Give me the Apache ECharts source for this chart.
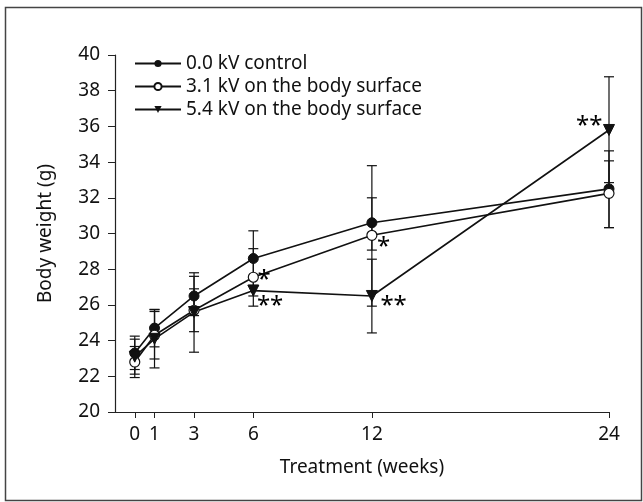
<!DOCTYPE html>
<html>
<head>
<meta charset="utf-8">
<script src="https://cdn.jsdelivr.net/npm/echarts@6/dist/echarts.min.js"></script>
<style>
  html, body { margin: 0; padding: 0; background: #fff; }
  #chart { width: 643px; height: 502px; }
</style>
</head>
<body>
<div id="chart"></div>
<script>
// weeks of treatment
const weeks = [0, 1, 3, 6, 12, 24];
const xTicks = [0, 1, 3, 6, 12, 24];

// mean body weight (g)
const control = [23.3, 24.7, 26.5, 28.6, 30.6, 32.5];
const kv31 = [22.8, 24.3, 25.7, 27.55, 29.9, 32.25];
const kv54 = [23.1, 24.1, 25.6, 26.8, 26.5, 35.8];

// error bar ends
const controlLow = [22.38, 23.65, 25.4, 27.05, 29.07, 30.33];
const controlHigh = [24.25, 25.75, 27.6, 30.15, 32.0, 34.63];
const kv31Low = [21.93, 22.97, 24.5, 25.93, 25.93, 30.33];
const kv31High = [23.67, 25.63, 26.9, 29.15, 33.8, 34.07];
const kv54Low = [22.12, 22.47, 23.35, 26.5, 24.43, 32.85];
const kv54High = [24.08, 25.73, 27.8, 27.1, 28.56, 38.78];

// significance marks [week, weight, text]
const stars = [
  [6.55, 27.4, '*'],
  [6.85, 25.95, '**'],
  [12.6, 29.25, '*'],
  [13.1, 25.95, '**'],
  [23.0, 36.0, '**']
];

const names = ['0.0 kV control', '3.1 kV on the body surface', '5.4 kV on the body surface'];
const font = 'Noto Sans';

function pairs(ys) {
  return weeks.map((w, i) => [w, ys[i]]);
}

function errData(low, high) {
  return weeks.map((w, i) => [w, low[i], high[i]]);
}

function errSeries(low, high) {
  return {
    type: 'custom',
    silent: true,
    z: 1,
    data: errData(low, high),
    encode: { x: 0, y: [1, 2] },
    renderItem: function (params, api) {
      let x = api.value(0);
      let lo = api.coord([x, api.value(1)]);
      let hi = api.coord([x, api.value(2)]);
      let cap = 5;
      let style = { stroke: '#111', lineWidth: 1.2 };
      return {
        type: 'group',
        children: [
          { type: 'line', shape: { x1: lo[0], y1: lo[1], x2: hi[0], y2: hi[1] }, style: style },
          { type: 'line', shape: { x1: lo[0] - cap, y1: lo[1], x2: lo[0] + cap, y2: lo[1] }, style: style },
          { type: 'line', shape: { x1: hi[0] - cap, y1: hi[1], x2: hi[0] + cap, y2: hi[1] }, style: style }
        ]
      };
    }
  };
}

let chart = echarts.init(document.getElementById('chart'));
chart.setOption({
  animation: false,
  backgroundColor: '#fff',
  textStyle: { fontFamily: font },
  graphic: [
    {
      type: 'rect',
      shape: { x: 5.5, y: 7.5, width: 636, height: 493 },
      style: { fill: 'none', stroke: '#444', lineWidth: 1.5 },
      silent: true
    }
  ],
  grid: { left: 115, right: 34, top: 55, bottom: 90 },
  legend: {
    orient: 'vertical',
    left: 129,
    top: 49,
    itemWidth: 46,
    itemHeight: 9,
    itemGap: 4,
    data: names,
    textStyle: { fontFamily: font, fontSize: 19, color: '#111' }
  },
  xAxis: {
    type: 'value',
    min: -1,
    max: 24,
    name: 'Treatment (weeks)',
    nameLocation: 'middle',
    nameGap: 46,
    nameTextStyle: { fontFamily: font, fontSize: 19, color: '#111' },
    splitLine: { show: false },
    axisLine: { onZero: false, lineStyle: { color: '#222', width: 1.2 } },
    axisTick: { customValues: xTicks, length: 6, lineStyle: { color: '#222' } },
    axisLabel: { customValues: xTicks, fontFamily: font, fontSize: 19, color: '#111', margin: 13 }
  },
  yAxis: {
    type: 'value',
    min: 20,
    max: 40,
    interval: 2,
    name: 'Body weight (g)',
    nameLocation: 'middle',
    nameGap: 60,
    nameTextStyle: { fontFamily: font, fontSize: 19, color: '#111' },
    splitLine: { show: false },
    axisLine: { show: true, onZero: false, lineStyle: { color: '#222', width: 1.2 } },
    axisTick: { show: true, length: 7, lineStyle: { color: '#222' } },
    axisLabel: { fontFamily: font, fontSize: 19, color: '#111', margin: 15 }
  },
  series: [
    errSeries(controlLow, controlHigh),
    errSeries(kv31Low, kv31High),
    errSeries(kv54Low, kv54High),
    {
      name: names[0],
      type: 'line',
      z: 3,
      data: pairs(control),
      symbol: 'circle',
      symbolSize: 10,
      lineStyle: { color: '#111', width: 1.6 },
      itemStyle: { color: '#111', borderColor: '#111' }
    },
    {
      name: names[1],
      type: 'line',
      z: 3,
      data: pairs(kv31),
      symbol: 'circle',
      symbolSize: 10,
      lineStyle: { color: '#111', width: 1.6 },
      itemStyle: { color: '#fff', borderColor: '#111', borderWidth: 1.2 }
    },
    {
      name: names[2],
      type: 'line',
      z: 3,
      data: pairs(kv54),
      symbol: 'triangle',
      symbolRotate: 180,
      symbolSize: 11,
      lineStyle: { color: '#111', width: 1.6 },
      itemStyle: { color: '#111', borderColor: '#111' }
    },
    {
      // asterisks placed through the axes
      type: 'custom',
      silent: true,
      z: 4,
      data: stars.map(s => [s[0], s[1]]),
      encode: { x: 0, y: 1 },
      renderItem: function (params, api) {
        let s = stars[params.dataIndex];
        let p = api.coord([s[0], s[1]]);
        return {
          type: 'text',
          x: p[0],
          y: p[1],
          style: {
            text: s[2],
            fontFamily: font,
            fontSize: 24,
            fill: '#000',
            align: 'center',
            verticalAlign: 'middle'
          }
        };
      }
    }
  ]
});
</script>
</body>
</html>
